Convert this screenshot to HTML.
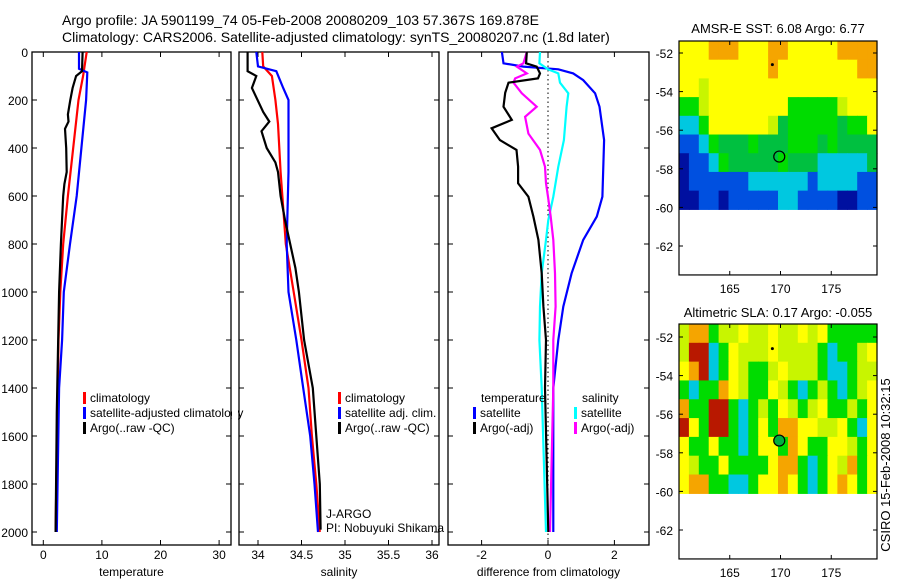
<!DOCTYPE html>
<html><head><meta charset="utf-8"><style>
body{margin:0;background:#fff}
svg{display:block;font-family:"Liberation Sans",sans-serif}
</style></head><body>
<svg id="fig" width="900" height="580" viewBox="0 0 900 580" xmlns="http://www.w3.org/2000/svg">
<text x="62" y="25" font-size="14">Argo profile: JA 5901199_74 05-Feb-2008 20080209_103 57.367S 169.878E</text>
<text x="62" y="42" font-size="14">Climatology: CARS2006. Satellite-adjusted climatology: synTS_20080207.nc (1.8d later)</text>
<text x="778" y="33" font-size="13" text-anchor="middle">AMSR-E SST: 6.08 Argo: 6.77</text>
<text x="778" y="317" font-size="13" text-anchor="middle">Altimetric SLA: 0.17 Argo: -0.055</text>
<text transform="translate(890,465) rotate(-90)" font-size="13" text-anchor="middle">CSIRO 15-Feb-2008 10:32:15</text>
<g id="g"></g>
</svg>
<script>
// ---- data ----
const depthTicks=[0,200,400,600,800,1000,1200,1400,1600,1800,2000];
const tempTicks=[0,10,20,30];
const salTicks=[34,34.5,35,35.5,36];
const diffTicks=[-2,0,2];
const latTicks=[-52,-54,-56,-58,-60,-62];
const lonTicks=[165,170,175];

const tArgoDepth=[0,80,100,150,200,260,290,320,400,500,550,600,800,1000,1500,2000];
const tArgo=[6.7,6.6,5.6,5.0,4.6,4.2,4.3,3.7,3.9,4.0,3.6,3.4,3.0,2.7,2.3,2.1];
const tClimDepth=[0,100,200,400,600,800,1000,1200,1500,2000];
const tClim=[7.4,6.8,6.0,5.1,4.2,3.4,2.9,2.6,2.4,2.1];
const tSatDepth=[0,70,85,200,400,600,800,1000,1200,1400,2000];
const tSat=[6.1,6.1,7.5,7.3,6.5,5.7,4.55,3.5,3.2,2.7,2.3];

const sArgoDepth=[0,80,100,150,250,290,330,400,460,500,600,700,800,900,1000,1200,1400,1600,1800,1990];
const sArgo=[33.88,33.88,33.98,33.93,34.06,34.13,34.04,34.10,34.20,34.23,34.26,34.31,34.37,34.43,34.47,34.53,34.63,34.67,34.71,34.72];
const sClimDepth=[0,60,100,200,300,500,700,800,1000,1200,1400,1600,1800,2000];
const sClim=[34.05,34.06,34.16,34.2,34.23,34.26,34.30,34.32,34.41,34.50,34.58,34.62,34.67,34.71];
const sSatDepth=[0,60,80,150,200,500,800,1000,1200,1400,1600,1800,2000];
const sSat=[33.98,34.0,34.21,34.29,34.35,34.35,34.33,34.35,34.44,34.52,34.60,34.65,34.69];

const dTSatDepth=[0,47,61,72,89,117,172,228,367,603,686,783,922,1061,1200,1400,2000];
const dTSat=[-1.39,-1.34,-0.74,0.31,0.76,1.06,1.42,1.55,1.69,1.64,1.47,1.06,0.71,0.46,0.31,0.16,0.16];
const dTArgoDepth=[0,47,61,89,110,128,170,228,283,318,367,408,478,547,603,686,783,922,1061,1200,1400,2000];
const dTArgo=[-0.64,-0.66,-0.34,-0.24,-0.3,-1.19,-1.29,-1.34,-1.09,-1.70,-1.45,-0.95,-0.90,-0.90,-0.59,-0.44,-0.29,-0.19,-0.14,-0.06,-0.09,0.01];
const dSArgoDepth=[0,47,61,89,110,128,172,228,270,340,408,478,547,603,686,783,922,1061,1200,1400,2000];
const dSArgo=[-0.64,-0.74,-0.94,-0.64,-0.99,-1.04,-0.79,-0.34,-0.69,-0.59,-0.24,-0.09,-0.06,0.0,0.08,0.16,0.21,0.23,0.16,0.16,0.06];
const dSSatDepth=[0,47,72,89,128,172,228,367,478,603,700,783,922,1061,1200,1400,2000];
const dSSat=[-0.24,-0.26,0.0,0.31,0.36,0.61,0.56,0.48,0.31,0.16,0.01,-0.06,-0.19,-0.24,-0.26,-0.19,-0.06];

const sstGrid=["YYYOOOYYYOOYYYYYOOOO","YYYYYYYYYOYYYYYYYYOO","YYLYYYYYYYYYYYYYYYYY","GGLYYYYYYYYGGGGGLYYY","CCGYYYYYYLgGGGGGgGGY","BBCGgggGgggGGGgGgggg","DBBCGgggggGgggCCCCCg","DBBBBBBCCCCCCBCCCCBB","DDBBDBBBBBCCBBBBDDBB"];
const slaGrid=["LOOGLLYLLYLLYLYGGGGG","LRRCGYLLLYLLLLGCGGLY","YORCGYLGGLYLLLGCCGLL","GCGGOYLGGYLGCGLGCGLY","OGGRRGCGLGYLGLYGGLGY","RYGRRGCGYGOOYYLLYGCY","YGGYGGCGYYGOYGGYYLGY","YLGGYGGGGYOOGCGYLOGY","YOOGGCCGYYOYGCGYOYGY"];
const argoLon=169.878, argoLat=-57.367;

// ---- helpers ----
const NS="http://www.w3.org/2000/svg";
const G=document.getElementById('g');
function el(t,a,p){const e=document.createElementNS(NS,t);for(const k in a)e.setAttribute(k,a[k]);(p||G).appendChild(e);return e;}
const yD=d=>52+d*0.24;

function panel(name,x0,x1,xf,xt,showY,xlabel){
  const f=el('rect',{x:x0,y:52,width:x1-x0,height:493,fill:'none',stroke:'#000','stroke-width':1.3});
  
  
  depthTicks.forEach(d=>{
    el('line',{x1:x0,x2:x0+5,y1:yD(d),y2:yD(d),stroke:'#000'});
    el('line',{x1:x1,x2:x1-5,y1:yD(d),y2:yD(d),stroke:'#000'});
    if(showY){const t=el('text',{x:28,y:yD(d)+5,'font-size':12,'text-anchor':'end'});t.textContent=d;
      
      }
  });
  xt.forEach(v=>{
    el('line',{x1:xf(v),x2:xf(v),y1:545,y2:540,stroke:'#000'});
    el('line',{x1:xf(v),x2:xf(v),y1:52,y2:57,stroke:'#000'});
    const t=el('text',{x:xf(v),y:559,'font-size':12,'text-anchor':'middle'});t.textContent=v;
    
    
  });
  const l=el('text',{x:(x0+x1)/2,y:576,'font-size':12,'text-anchor':'middle'});l.textContent=xlabel;
  
  
}
function line(depths,vals,xf,color,name){
  const pts=depths.map((d,i)=>xf(vals[i]).toFixed(1)+','+yD(d).toFixed(1)).join(' ');
  const p=el('polyline',{points:pts,fill:'none',stroke:color,'stroke-width':2.2});
  
  
}
function legend(x,y,color,text,name){
  el('rect',{x:x,y:y-10,width:3,height:12,fill:color});
  const t=el('text',{x:x+7,y:y,'font-size':12});t.textContent=text;
  
  
}

// Panel 1 temperature
const xT=v=>43.3+5.86*v;
panel('temperature-panel',32,231,xT,tempTicks,true,'temperature');
line(tClimDepth,tClim,xT,'#f00','temp-climatology-line');
line(tSatDepth,tSat,xT,'#00f','temp-satellite-line');
line(tArgoDepth,tArgo,xT,'#000','temp-argo-line');
legend(83,402,'#f00','climatology','legend-climatology');
legend(83,417,'#00f','satellite-adjusted climatology','legend-satellite-adjusted');
legend(83,432,'#000','Argo(..raw -QC)','legend-argo');
el('rect',{x:232,y:385,width:6,height:60,fill:'#fff'});

// Panel 2 salinity
const xS=v=>258+87*(v-34);
panel('salinity-panel',239,439,xS,salTicks,false,'salinity');
line(sClimDepth,sClim,xS,'#f00','sal-climatology-line');
line(sSatDepth,sSat,xS,'#00f','sal-satellite-line');
line(sArgoDepth,sArgo,xS,'#000','sal-argo-line');
legend(338,402,'#f00','climatology','legend-sal-climatology');
legend(338,417,'#00f','satellite adj. clim.','legend-sal-satellite');
legend(338,432,'#000','Argo(..raw -QC)','legend-sal-argo');
let t1=el('text',{x:326,y:518,'font-size':12});t1.textContent='J-ARGO';


let t2=el('text',{x:326,y:532,'font-size':12});t2.textContent='PI: Nobuyuki Shikama';



// Panel 3 differences
const xDf=v=>548+33.2*v;
panel('difference-panel',448,649,xDf,diffTicks,false,'difference from climatology');
el('line',{x1:xDf(0),x2:xDf(0),y1:52,y2:545,stroke:'#000','stroke-dasharray':'1.5,3'});
line(dTSatDepth,dTSat,xDf,'#00f','diff-temp-satellite-line');
line(dSSatDepth,dSSat,xDf,'#0ff','diff-sal-satellite-line');
line(dSArgoDepth,dSArgo,xDf,'#f0f','diff-sal-argo-line');
line(dTArgoDepth,dTArgo,xDf,'#000','diff-temp-argo-line');
let t3=el('text',{x:481,y:402,'font-size':12});t3.textContent='temperature';


let t4=el('text',{x:582,y:402,'font-size':12});t4.textContent='salinity';


legend(473,417,'#00f','satellite','legend-diff-temp-satellite');
legend(473,432,'#000','Argo(-adj)','legend-diff-temp-argo');
legend(574,417,'#0ff','satellite','legend-diff-sal-satellite');
legend(574,432,'#f0f','Argo(-adj)','legend-diff-sal-argo');

// Maps
const COL={O:'#f5a500',Y:'#ffff00',L:'#c8f500',G:'#00dc00',g:'#00c040',C:'#00c8e0',B:'#0050e0',D:'#0010a0',R:'#b81800'};
function map(name,top,lat52y,grid,filled){
  const x0=679,x1=877,lon=v=>679+(v-160)*10.15, pxLat=19.3, lat=v=>lat52y+(-52-v)*pxLat;
  const yTop=top, yData=lat(-60.1), bottom=lat(-63.5);
  const rows=grid.length, cols=grid[0].length;
  const ch=(yData-yTop)/rows, cw=(x1-x0)/cols;
  grid.forEach((r,i)=>{for(let j=0;j<cols;j++){
    el('rect',{x:(x0+j*cw).toFixed(2),y:(yTop+i*ch).toFixed(2),width:(cw+0.6).toFixed(2),height:(ch+0.6).toFixed(2),fill:COL[r[j]]||'#ff0'});
  }});
  const f=el('rect',{x:x0,y:yTop,width:x1-x0,height:bottom-yTop,fill:'none',stroke:'#000','stroke-width':1.2});
  
  
  latTicks.forEach(v=>{
    el('line',{x1:x0,x2:x0+4,y1:lat(v),y2:lat(v),stroke:'#000'});
    el('line',{x1:x1,x2:x1-4,y1:lat(v),y2:lat(v),stroke:'#000'});
    const t=el('text',{x:673,y:lat(v)+5,'font-size':12,'text-anchor':'end'});t.textContent=v;
    
    
  });
  lonTicks.forEach(v=>{
    el('line',{x1:lon(v),x2:lon(v),y1:bottom,y2:bottom-4,stroke:'#000'});
    el('line',{x1:lon(v),x2:lon(v),y1:yTop,y2:yTop+4,stroke:'#000'});
    const t=el('text',{x:lon(v),y:bottom+18,'font-size':12,'text-anchor':'middle'});t.textContent=v;
    
    
  });
  el('circle',{cx:lon(169.2),cy:lat(-52.6),r:1.5,fill:'#000'});
  const c=el('circle',{cx:lon(argoLon),cy:lat(argoLat),r:5.5,fill:filled?'#00b040':'none',stroke:'#000','stroke-width':1.2});
  
  
}
map('sst-map',41,53,sstGrid,false);
map('sla-map',324,337,slaGrid,true);
</script>
</body></html>
